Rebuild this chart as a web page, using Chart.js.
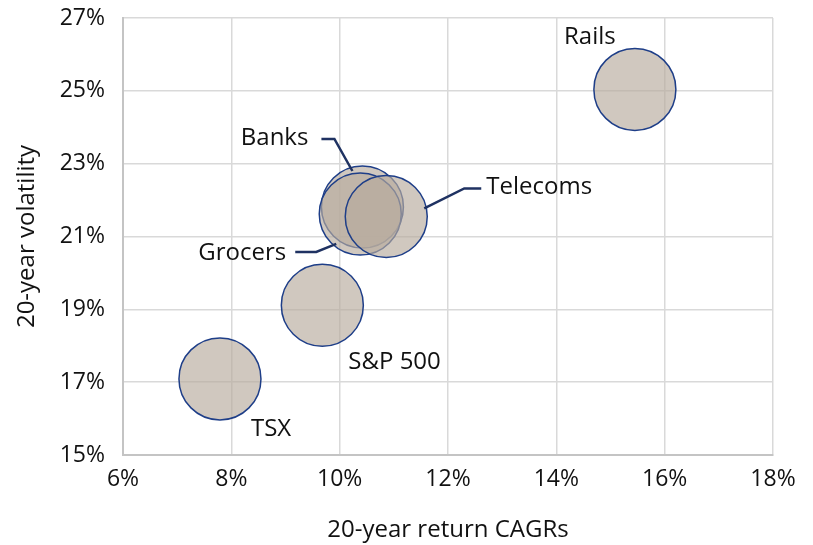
<!DOCTYPE html>
<html>
<head>
<meta charset="utf-8">
<script src="https://cdn.jsdelivr.net/npm/chart.js@4.4.0/dist/chart.umd.min.js"></script>
<style>
  html, body { margin: 0; padding: 0; background: #fff; }
  #wrap { width: 813px; height: 545px; }
</style>
</head>
<body>
<div id="wrap"><canvas id="bubbles"></canvas></div>
<script>
// values, in percent
var sectors    = ["Banks", "Grocers", "Telecoms", "S&P 500", "TSX", "Rails"];
var returnCagr = [10.42, 10.38, 10.86, 9.68, 7.79, 15.45];
var volatility = [21.81, 21.62, 21.55, 19.11, 17.09, 25.04];
var bubbleSize = [41, 41, 41, 41, 41, 41];

var xTicks = [6, 8, 10, 12, 14, 16, 18];
var yTicks = [15, 17, 19, 21, 23, 25, 27];

var FONT = "'Open Sans', 'Noto Sans', sans-serif";
var BLUE = "#1e3e88";
var NAVY = "#1f3262";

// label placement relative to each bubble centre (px), plus optional leader line
var labelStyle = {
  "Banks":    { dx: -54, dy: -62, align: "right", line: [[-41, -68], [-28, -68], [-10, -36]] },
  "Grocers":  { dx: -74, dy: 46,  align: "right", line: [[-65, 38], [-44, 38], [-24, 30]] },
  "Telecoms": { dx: 100, dy: -22, align: "left",  line: [[95, -28], [78, -28], [38, -8]] },
  "S&P 500":  { dx: 26,  dy: 64,  align: "left" },
  "TSX":      { dx: 31,  dy: 57,  align: "left" },
  "Rails":    { dx: -45, dy: -45, align: "center" }
};

var points = [];
for (var i = 0; i < sectors.length; i++) {
  points.push({ x: returnCagr[i], y: volatility[i], r: bubbleSize[i] });
}

var bubbleLabels = {
  id: "bubbleLabels",
  afterDatasetsDraw: function (chart) {
    var ctx = chart.ctx;
    var meta = chart.getDatasetMeta(0);
    ctx.save();
    meta.data.forEach(function (el, i) {
      var st = labelStyle[sectors[i]];
      if (st.line) {
        ctx.beginPath();
        ctx.strokeStyle = NAVY;
        ctx.lineWidth = 2.5;
        st.line.forEach(function (p, j) {
          if (j === 0) ctx.moveTo(el.x + p[0], el.y + p[1]);
          else ctx.lineTo(el.x + p[0], el.y + p[1]);
        });
        ctx.stroke();
      }
      ctx.font = "24px " + FONT;
      ctx.fillStyle = "#111";
      ctx.textAlign = st.align;
      ctx.textBaseline = "alphabetic";
      ctx.fillText(sectors[i], el.x + st.dx, el.y + st.dy);
    });
    ctx.restore();
  }
};

var ctx = document.getElementById("bubbles");

var chart = new Chart(ctx, {
  type: "bubble",
  data: {
    datasets: [
      {
        label: "Sectors",
        data: points,
        backgroundColor: "rgba(184, 171, 158, 0.66)",
        borderColor: BLUE,
        borderWidth: 1.5,
        hoverRadius: 0
      }
    ]
  },
  options: {
    responsive: true,
    maintainAspectRatio: false,
    animation: false,
    layout: { autoPadding: false, padding: { left: 10, right: 40, top: 18, bottom: 0 } },
    plugins: {
      legend: { display: false },
      tooltip: { enabled: false }
    },
    scales: {
      x: {
        type: "linear",
        min: 6,
        max: 18,
        afterBuildTicks: function (scale) {
          scale.ticks = xTicks.map(function (v) { return { value: v }; });
        },
        afterFit: function (scale) { scale.height = 90; },
        grid: { color: "#d9d9d9", lineWidth: 1.5, drawTicks: false },
        border: { color: "#c4c4c4", width: 2 },
        ticks: {
          padding: 11,
          color: "#111",
          font: { family: FONT, size: 23 },
          callback: function (v) { return v + "%"; }
        },
        title: {
          display: true,
          text: "20-year return CAGRs",
          color: "#111",
          padding: { top: 0, bottom: 0 },
          font: { family: FONT, size: 24 }
        }
      },
      y: {
        type: "linear",
        min: 15,
        max: 27,
        afterBuildTicks: function (scale) {
          scale.ticks = yTicks.map(function (v) { return { value: v }; });
        },
        afterFit: function (scale) {
          scale.width = 113;
          scale.paddingTop = 0;
          scale.paddingBottom = 0;
        },
        grid: { color: "#d9d9d9", lineWidth: 1.5, drawTicks: false },
        border: { color: "#c4c4c4", width: 2 },
        ticks: {
          padding: 18,
          color: "#111",
          font: { family: FONT, size: 23 },
          callback: function (v) { return v + "%"; }
        },
        title: {
          display: true,
          text: "20-year volatility",
          color: "#111",
          padding: { top: 3, bottom: 0 },
          font: { family: FONT, size: 24 }
        }
      }
    }
  },
  plugins: [bubbleLabels]
});
</script>
</body>
</html>
